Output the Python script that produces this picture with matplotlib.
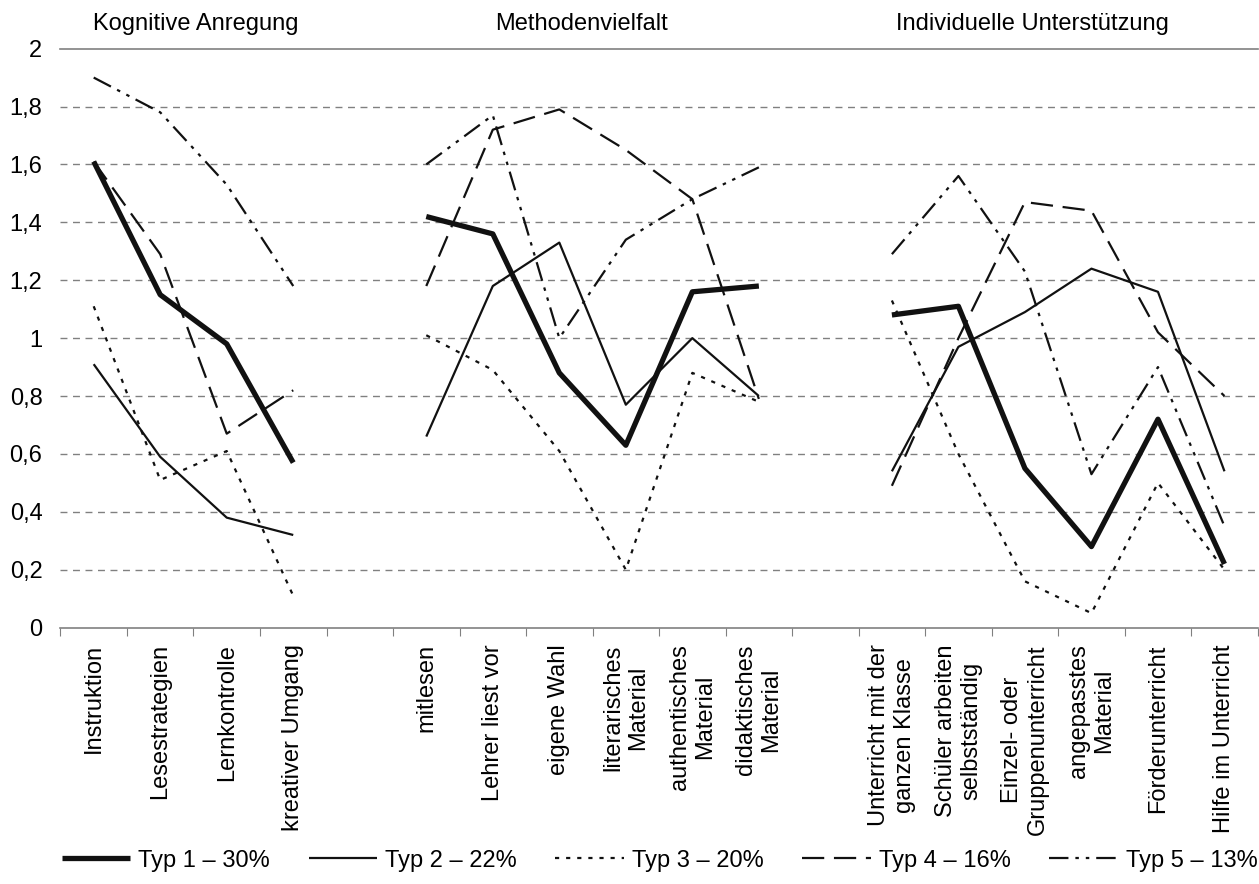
import matplotlib
matplotlib.use("Agg")
import matplotlib.pyplot as plt
import numpy as np

plt.rcParams['font.family'] = ['Liberation Sans', 'DejaVu Sans']
plt.rcParams['lines.scale_dashes'] = False

# categories per block
groups = ["Kognitive Anregung", "Methodenvielfalt", "Individuelle Unterstützung"]
labels_kog = ["Instruktion", "Lesestrategien", "Lernkontrolle", "kreativer Umgang"]
labels_meth = ["mitlesen", "Lehrer liest vor", "eigene Wahl", "literarisches\nMaterial",
               "authentisches\nMaterial", "didaktisches\nMaterial"]
labels_ind = ["Unterricht mit der\nganzen Klasse", "Schüler arbeiten\nselbstständig",
              "Einzel- oder\nGruppenunterricht", "angepasstes\nMaterial",
              "Förderunterricht", "Hilfe im Unterricht"]

types = ["Typ 1 – 30%", "Typ 2 – 22%", "Typ 3 – 20%", "Typ 4 – 16%", "Typ 5 – 13%"]

# values per type: [kognitive, methoden, individuell]
typ1 = [[1.61, 1.15, 0.98, 0.57],
        [1.42, 1.36, 0.88, 0.63, 1.16, 1.18],
        [1.08, 1.11, 0.55, 0.28, 0.72, 0.22]]
typ2 = [[0.91, 0.59, 0.38, 0.32],
        [0.66, 1.18, 1.33, 0.77, 1.00, 0.80],
        [0.54, 0.97, 1.09, 1.24, 1.16, 0.54]]
typ3 = [[1.11, 0.51, 0.61, 0.11],
        [1.01, 0.89, 0.61, 0.20, 0.88, 0.78],
        [1.13, 0.60, 0.16, 0.05, 0.50, 0.20]]
typ4 = [[1.61, 1.29, 0.67, 0.82],
        [1.18, 1.72, 1.79, 1.65, 1.48, 0.79],
        [0.49, 1.00, 1.47, 1.44, 1.02, 0.80]]
typ5 = [[1.90, 1.78, 1.53, 1.18],
        [1.60, 1.77, 1.00, 1.34, 1.48, 1.59],
        [1.29, 1.56, 1.23, 0.53, 0.90, 0.35]]

yticks = [0, 0.2, 0.4, 0.6, 0.8, 1, 1.2, 1.4, 1.6, 1.8, 2]
ytick_labels = ["0", "0,2", "0,4", "0,6", "0,8", "1", "1,2", "1,4", "1,6", "1,8", "2"]

# slot positions (one empty slot between blocks)
slots = [np.arange(0, 4), np.arange(5, 11), np.arange(12, 18)]

styles = [
    dict(lw=3.8, ls='-'),
    dict(lw=1.6, ls='-'),
    dict(lw=1.6, ls=(0, (3, 5))),
    dict(lw=1.6, ls=(0, (16, 7))),
    dict(lw=1.6, ls=(0, (14, 5, 2.5, 5, 2.5, 5))),
]

fig = plt.figure(figsize=(12.59, 8.84), dpi=100)
ax = fig.add_axes([0.048, 0.29, 0.951, 0.655])

grid_c = '#808080'
for v in yticks[1:-1]:
    ax.axhline(v, color=grid_c, lw=1, ls=(0, (5, 4)), zorder=1)

handles = []
for name, data, st in zip(types, [typ1, typ2, typ3, typ4, typ5], styles):
    for i, (xs, ys) in enumerate(zip(slots, data)):
        ln, = ax.plot(xs, ys, color='#111111', solid_capstyle='butt',
                      dash_capstyle='butt', zorder=3, **st)
        if i == 0:
            handles.append(ln)

ax.set_xlim(-0.5, 17.5)
ax.set_ylim(0, 2)

# group boundaries as major ticks, names at minor ticks
ax.set_xticks(np.arange(-0.5, 18, 1))
ax.set_xticklabels([])
centers = np.concatenate(slots)
ax.set_xticks(centers, minor=True)
ax.set_xticklabels(labels_kog + labels_meth + labels_ind, minor=True,
                   rotation=90, ha='center', va='top', multialignment='center')
ax.tick_params(axis='x', which='major', length=6, color=grid_c, direction='out')
ax.tick_params(axis='x', which='minor', length=0, pad=12, labelsize=17)

ax.set_yticks(yticks)
ax.set_yticklabels(ytick_labels)
ax.tick_params(axis='y', length=0, pad=13, labelsize=17)

for s in ['left', 'right']:
    ax.spines[s].set_visible(False)
ax.spines['top'].set_color(grid_c)
ax.spines['bottom'].set_color(grid_c)
ax.spines['top'].set_linewidth(1.2)
ax.spines['bottom'].set_linewidth(1.2)

for g, xpos in zip(groups, [1.53, 7.33, 14.12]):
    ax.text(xpos, 2.085, g, ha='center', va='center', fontsize=17, clip_on=False)

fig.legend(handles, types, loc='lower left', bbox_to_anchor=(0.049, 0.014, 0.95, 0.05),
           mode='expand', ncol=5, frameon=False, fontsize=17, handlelength=2.9,
           handletextpad=0.35, borderaxespad=0, borderpad=0)

fig.savefig("out.png", dpi=100)
